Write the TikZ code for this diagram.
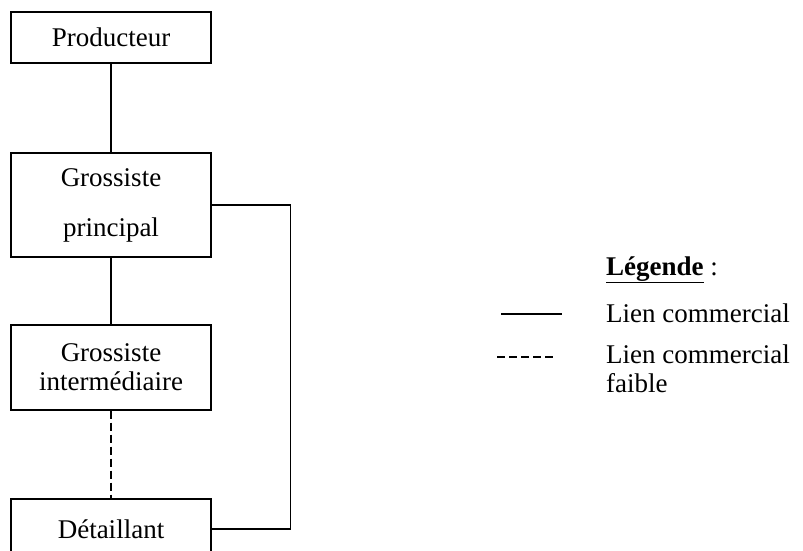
\documentclass[tikz,border=0pt]{standalone}
\usepackage{fontspec}
\setmainfont{Liberation Serif}
\usetikzlibrary{positioning}

\tikzset{
  box/.style={draw, line width=1.1pt, minimum width=200pt, inner sep=0pt, align=center},
  lien/.style={line width=1.1pt},
  lienfaible/.style={line width=1.1pt, dash pattern=on 8pt off 4pt},
  legtext/.style={anchor=base west, inner sep=0pt, align=left}
}

\begin{document}
\begin{tikzpicture}[x=1pt,y=-1pt,font=\fontsize{27}{31}\selectfont]
            % page frame
            \useasboundingbox (0,0) rectangle (803,551);
            \clip (0,0) rectangle (803,551);

            % the chain
            \node[box, minimum height=51pt] (producteur) at (111,37.5) {Producteur};
            \node[box, minimum height=104pt] (grossP) at (111,205) {Grossiste\\[19pt]principal};
            \node[box, minimum height=85pt] (grossI) at (111,367.5) {Grossiste\\[-2pt]intermédiaire};
            \node[box, minimum height=60pt] (detail) at (111,529) {Détaillant};

            % links
            \draw[lien] (producteur) -- (grossP);
            \draw[lien] (grossP) -- (grossI);
            \draw[lienfaible] (grossI) -- (detail);
            \draw[lien] (grossP.east) -- ++(79,0) |- (detail.east);

            % legend
            \node[legtext] (legende) at (606,275) {\textbf{\underline{Légende}} :};
            \coordinate (solA) at (501,314);
            \coordinate (solB) at (562,314);
            \draw[lien] (solA) -- (solB);
            \node[legtext] (lienfort) at (606,322) {Lien commercial};
            \coordinate (dasA) at (497,357);
            \coordinate (dasB) at (556,357);
            \draw[lienfaible] (dasA) -- (dasB);
            \node[legtext] (lienfaib) at (606,392) {Lien commercial\\[-2pt]faible};
\end{tikzpicture}
\end{document}
